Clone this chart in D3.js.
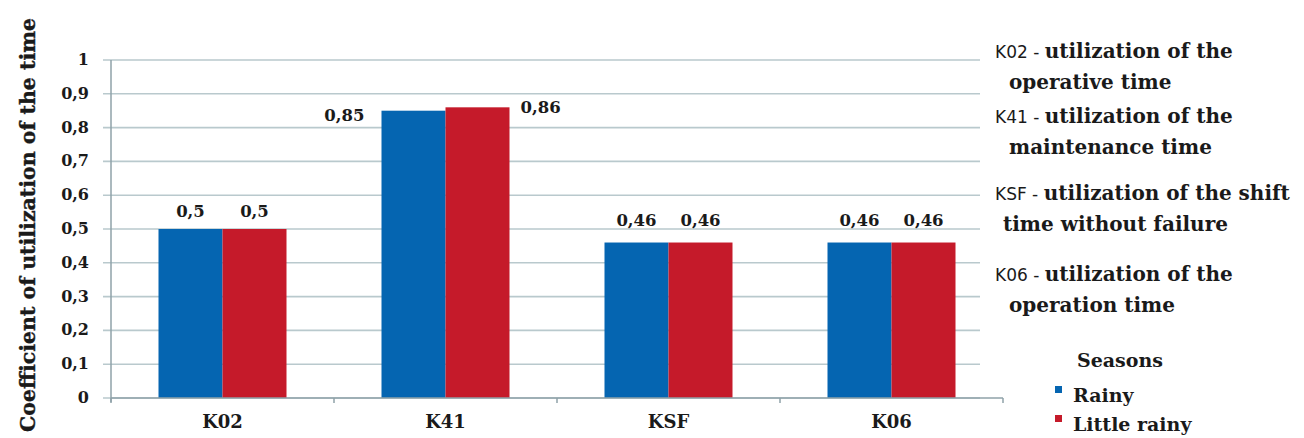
<!DOCTYPE html>
<html>
<head>
<meta charset="utf-8">
<script src="https://cdn.jsdelivr.net/npm/d3@7"></script>
<style>
  html, body { margin: 0; padding: 0; background: #fff; }
  svg { display: block; }
</style>
</head>
<body>
<div id="chart"></div>
<script>
// Chart data
const categories = ['K02', 'K41', 'KSF', 'K06'];
const seriesNames = ['Rainy', 'Little rainy'];
const rainyValues = [0.5, 0.85, 0.46, 0.46];
const littleRainyValues = [0.5, 0.86, 0.46, 0.46];
const yTicks = [0, 0.1, 0.2, 0.3, 0.4, 0.5, 0.6, 0.7, 0.8, 0.9, 1];
const yTitle = 'Coefficient of utilization of the time';
const legendTitle = 'Seasons';
const notes = [
    ['K02', 'utilization of the', 'operative time'],
    ['K41', 'utilization of the', 'maintenance time'],
    ['KSF', 'utilization of the shift', 'time without failure'],
    ['K06', 'utilization of the', 'operation time']
];

const colors = ['#0565b1', '#c51a2a'];
const serif = "'DejaVu Serif', serif";
const sans = "'DejaVu Sans', sans-serif";

const width = 1304, height = 438;
const plot = { left: 111, right: 1003, top: 60, bottom: 398 };

const svg = d3.select('#chart').append('svg')
    .attr('width', width)
    .attr('height', height);

const x0 = d3.scaleBand()
    .domain(categories)
    .range([plot.left, plot.right]);

// bars take roughly 57% of each category slot
const groupW = x0.bandwidth() * 0.574;
const x1 = d3.scaleBand()
    .domain(seriesNames)
    .range([(x0.bandwidth() - groupW) / 2, (x0.bandwidth() + groupW) / 2]);

const y = d3.scaleLinear()
    .domain([0, 1])
    .range([plot.bottom, plot.top]);

// gridlines
svg.append('g')
    .selectAll('line')
    .data(yTicks)
    .join('line')
    .attr('x1', plot.left - 8)
    .attr('x2', plot.right - 23)
    .attr('y1', d => y(d))
    .attr('y2', d => y(d))
    .attr('stroke', '#b9c9cd')
    .attr('stroke-width', 1.6);

// y axis labels
svg.append('g')
    .selectAll('text')
    .data(yTicks)
    .join('text')
    .attr('x', plot.left - 22)
    .attr('y', d => y(d) + 5)
    .attr('text-anchor', 'end')
    .style('font-family', serif)
    .style('font-weight', 'bold')
    .style('font-size', '16px')
    .attr('fill', '#1a1a1a')
    .text(d => String(d).replace('.', ','));

// y axis line
svg.append('line')
    .attr('x1', plot.left).attr('x2', plot.left)
    .attr('y1', plot.top).attr('y2', plot.bottom + 4)
    .attr('stroke', '#8fa2a8')
    .attr('stroke-width', 1.5);

// y axis title
svg.append('text')
    .attr('transform', `translate(35,${(plot.top + plot.bottom) / 2 - 4}) rotate(-90)`)
    .attr('text-anchor', 'middle')
    .style('font-family', serif)
    .style('font-weight', 'bold')
    .style('font-size', '20.5px')
    .style('stroke', '#1a1a1a')
    .style('stroke-width', '0.4px')
    .attr('fill', '#1a1a1a')
    .text(yTitle);

// bars
const groups = svg.append('g')
    .selectAll('g')
    .data(categories)
    .join('g')
    .attr('transform', d => `translate(${x0(d)},0)`);

const barData = (c, i) => seriesNames.map((s, k) => ({
    cat: c,
    series: s,
    idx: k,
    value: (k === 0 ? rainyValues : littleRainyValues)[i]
}));

groups.selectAll('rect')
    .data(barData)
    .join('rect')
    .attr('x', d => x1(d.series))
    .attr('width', x1.bandwidth())
    .attr('y', d => y(d.value))
    .attr('height', d => y(0) - y(d.value))
    .attr('fill', d => colors[d.idx]);

// value labels, tall group gets labels beside the bars
const fmt = v => String(v).replace('.', ',');
groups.selectAll('text')
    .data(barData)
    .join('text')
    .attr('x', d => {
        if (d.value > 0.8) {
            return d.idx === 0 ? x1(d.series) - 17 : x1(d.series) + x1.bandwidth() + 11;
        }
        return x1(d.series) + x1.bandwidth() / 2;
    })
    .attr('y', d => d.value > 0.8 ? y(d.value) + 10 - d.idx * 4 : y(d.value) - (d.value < 0.5 ? 17 : 12))
    .attr('text-anchor', d => d.value > 0.8 ? (d.idx === 0 ? 'end' : 'start') : 'middle')
    .style('font-family', serif)
    .style('font-weight', 'bold')
    .style('font-size', '16.5px')
    .attr('fill', '#1a1a1a')
    .text(d => fmt(d.value));

// x axis
svg.append('line')
    .attr('x1', plot.left).attr('x2', plot.right)
    .attr('y1', plot.bottom).attr('y2', plot.bottom)
    .attr('stroke', '#8fa2a8')
    .attr('stroke-width', 1.5);

svg.append('g')
    .selectAll('line')
    .data(categories.map(c => x0(c)).concat([plot.right]))
    .join('line')
    .attr('x1', d => d).attr('x2', d => d)
    .attr('y1', plot.bottom).attr('y2', plot.bottom + 5)
    .attr('stroke', '#8fa2a8')
    .attr('stroke-width', 1.5);

svg.append('g')
    .selectAll('text')
    .data(categories)
    .join('text')
    .attr('x', d => x0(d) + x0.bandwidth() / 2)
    .attr('y', 428)
    .attr('text-anchor', 'middle')
    .style('font-family', serif)
    .style('font-weight', 'bold')
    .style('font-size', '18px')
    .attr('fill', '#1a1a1a')
    .text(d => d);

// notes on the right
const noteTops = [58, 123, 200, 281];
const notesG = svg.append('g');
notes.forEach((n, i) => {
    const t = notesG.append('text')
        .attr('x', 995)
        .attr('y', noteTops[i])
        .attr('fill', '#1a1a1a');
    t.append('tspan')
        .style('font-family', sans)
        .style('font-size', '17px')
        .text(n[0] + ' - ');
    t.append('tspan')
        .style('font-family', serif)
        .style('font-weight', 'bold')
        .style('font-size', '20px')
        .text(n[1]);
    notesG.append('text')
        .attr('x', i === 2 ? 1003 : 1009)
        .attr('y', noteTops[i] + 31)
        .style('font-family', serif)
        .style('font-weight', 'bold')
        .style('font-size', '20px')
        .attr('fill', '#1a1a1a')
        .text(n[2]);
});

// legend
const legend = svg.append('g').attr('transform', 'translate(1055,367)');
legend.append('text')
    .attr('x', 22)
    .attr('y', 0)
    .style('font-family', serif)
    .style('font-weight', 'bold')
    .style('font-size', '19px')
    .attr('fill', '#1a1a1a')
    .text(legendTitle);

const items = legend.selectAll('g.item')
    .data(seriesNames)
    .join('g')
    .attr('class', 'item')
    .attr('transform', (d, i) => `translate(0,${35 + i * 29})`);

items.append('rect')
    .attr('x', 0)
    .attr('y', -16)
    .attr('width', 7)
    .attr('height', 7)
    .attr('fill', (d, i) => colors[i]);

items.append('text')
    .attr('x', 18)
    .attr('y', 0)
    .style('font-family', serif)
    .style('font-weight', 'bold')
    .style('font-size', '19px')
    .attr('fill', '#1a1a1a')
    .text(d => d);
</script>
</body>
</html>
